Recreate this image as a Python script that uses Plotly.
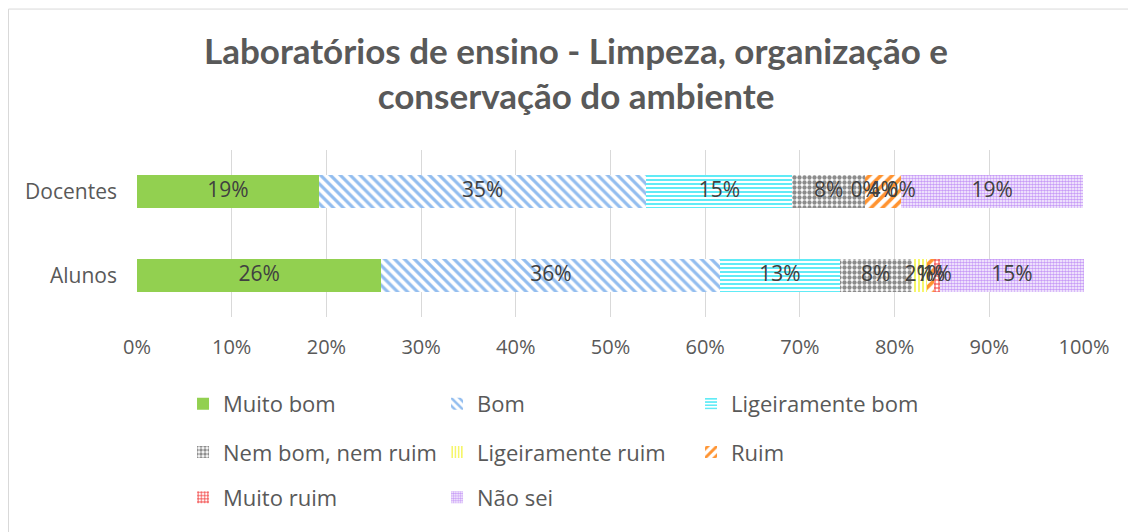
import plotly.graph_objects as go

# respondent groups (bottom to top, as drawn)
groups = ["Alunos", "Docentes"]

categories = ["Muito bom", "Bom", "Ligeiramente bom", "Nem bom, nem ruim",
              "Ligeiramente ruim", "Ruim", "Muito ruim", "Não sei"]

# share of answers (%) per category: [Alunos, Docentes]
muito_bom = [25.8, 19.2]
bom = [35.8, 34.6]
lig_bom = [12.6, 15.4]
nem_bom = [7.6, 7.7]
lig_ruim = [1.6, 0.0]
ruim = [0.8, 3.8]
muito_ruim = [0.6, 0.0]
nao_sei = [15.2, 19.2]

series = [muito_bom, bom, lig_bom, nem_bom, lig_ruim, ruim, muito_ruim, nao_sei]

# colour, pattern shape, pattern size, solidity
STYLE = [
    ("#92D050", "", 8, 0.3),
    ("#92BDEF", "\\", 7, 0.45),
    ("#4FE9F5", "-", 4, 0.45),
    ("#8C8C8C", ".", 5, 0.6),
    ("#F5F55A", "|", 4, 0.45),
    ("#FF9330", "/", 8, 0.45),
    ("#F23B3B", "+", 4, 0.45),
    ("#C79BF7", ".", 3, 0.6),
]
# legend row each category goes in
ROW = ["legend", "legend", "legend", "legend2", "legend2", "legend2",
       "legend3", "legend3"]

FONT = "'Open Sans', sans-serif"
GREY = "#595959"

fig = go.Figure()
for name, vals, (col, shape, size, sol), lg in zip(categories, series, STYLE, ROW):
    if shape:
        marker = dict(color="white",
                      pattern=dict(shape=shape, fgcolor=col, bgcolor="white",
                                   size=size, solidity=sol, fillmode="replace"),
                      line=dict(width=0))
    else:
        marker = dict(color=col, line=dict(width=0))
    fig.add_trace(go.Bar(y=groups, x=vals, name=name, orientation="h",
                         marker=marker, textposition="none", legend=lg))

# data labels centred on each segment (zero segments included, like the original)
lx, ly, lt = [], [], []
for gi, g in enumerate(groups):
    start = 0.0
    for vals in series:
        v = vals[gi]
        lx.append(start + v / 2)
        ly.append(g)
        lt.append(f"{v:.0f}%")
        start += v
fig.add_trace(go.Scatter(x=lx, y=ly, text=lt, mode="text", showlegend=False,
                         textfont=dict(size=21, color="#404040", family=FONT),
                         hoverinfo="skip", cliponaxis=False))

leg = dict(orientation="h", xanchor="left", yanchor="middle", x=0.0486,
           entrywidth=209, traceorder="normal",
           font=dict(size=22, color=GREY, family=FONT),
           bgcolor="rgba(0,0,0,0)", itemclick=False)

fig.update_layout(
    barmode="stack", bargap=0.6,
    width=1136, height=532,
    margin=dict(l=129, r=60, t=142, b=223),
    paper_bgcolor="white", plot_bgcolor="white",
    font=dict(family=FONT, color=GREY),
    title=dict(text="Laboratórios de ensino - Limpeza, organização e<br>"
                    "conservação do ambiente",
               x=0.5, xanchor="center", y=0.895, yanchor="top",
               font=dict(size=35, color=GREY, family="Lato, sans-serif",
                         weight="bold")),
    legend=dict(leg, y=-0.52),
    legend2=dict(leg, y=-0.81),
    legend3=dict(leg, y=-1.08),
    shapes=[
        dict(type="line", xref="paper", yref="paper", x0=-0.1357, x1=1.1,
             y0=1.844, y1=1.844, line=dict(color="#D9D9D9", width=1)),
        dict(type="line", xref="paper", yref="paper", x0=-0.1357, x1=-0.1357,
             y0=1.844, y1=-1.5, line=dict(color="#D9D9D9", width=1)),
    ],
)
fig.update_xaxes(range=[0, 100], dtick=10, ticksuffix="%",
                 showgrid=True, gridcolor="#D9D9D9", gridwidth=1,
                 zeroline=False, showline=False, ticklabelstandoff=16,
                 tickfont=dict(size=20, color=GREY, family=FONT))
fig.update_yaxes(showgrid=False, showline=False, ticklabelstandoff=19,
                 tickfont=dict(size=21, color=GREY, family=FONT))

fig.write_html("out.html")
